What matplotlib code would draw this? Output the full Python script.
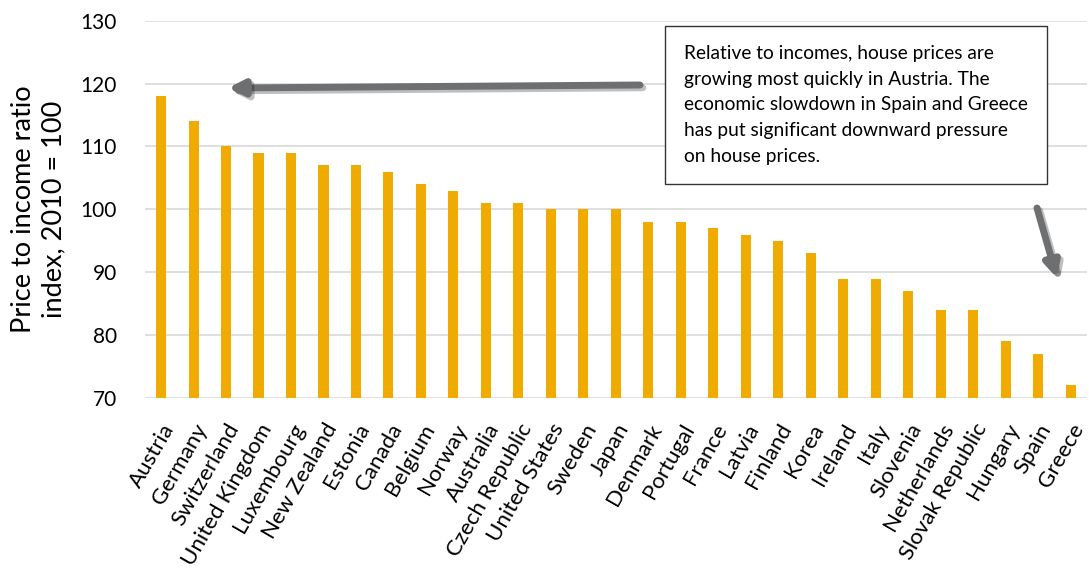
import matplotlib.pyplot as plt
import matplotlib.patheffects as pe

# price to income ratio index by country, 2010 = 100
countries = ["Austria", "Germany", "Switzerland", "United Kingdom", "Luxembourg",
             "New Zealand", "Estonia", "Canada", "Belgium", "Norway", "Australia",
             "Czech Republic", "United States", "Sweden", "Japan", "Denmark",
             "Portugal", "France", "Latvia", "Finland", "Korea", "Ireland", "Italy",
             "Slovenia", "Netherlands", "Slovak Republic", "Hungary", "Spain", "Greece"]
values = [118, 114, 110, 109, 109, 107, 107, 106, 104, 103, 101, 101, 100, 100, 100,
          98, 98, 97, 96, 95, 93, 89, 89, 87, 84, 84, 79, 77, 72]
yticks = [70, 80, 90, 100, 110, 120, 130]

plt.rcParams['font.family'] = ['Lato', 'DejaVu Sans']

fig = plt.figure(figsize=(10.89, 5.76), dpi=100)
ax = fig.add_axes([0.133, 0.309, 0.865, 0.655])

x = range(len(countries))
ax.bar(x, values, width=0.31, color="#F0AB00", zorder=3)

ax.set_ylim(70, 130)
ax.set_xlim(-0.5, len(countries) - 0.5)
ax.set_yticks(yticks)
ax.set_yticklabels([str(t) for t in yticks], fontsize=15)
ax.set_xticks(list(x))
ax.set_xticklabels(countries, rotation=60, ha="right", rotation_mode="anchor", fontsize=16)
ax.tick_params(axis="y", length=0, pad=20)
ax.tick_params(axis="x", length=0, pad=16)
ax.grid(axis="y", color="#D9D9D9", linewidth=1.2, zorder=0)
for s in ax.spines.values():
    s.set_visible(False)

ax.set_ylabel("Price to income ratio\nindex, 2010 = 100", fontsize=19.5, labelpad=10,
              linespacing=1.3)

# callout box
fig.text(684 / 1089, 1 - 45 / 576,
         "Relative to incomes, house prices are\n"
         "growing most quickly in Austria. The\n"
         "economic slowdown in Spain and Greece\n"
         "has put significant downward pressure\n"
         "on house prices.",
         fontsize=13.8, va="top", ha="left", linespacing=1.62,
         bbox=dict(boxstyle="square,pad=1.0", facecolor="white", edgecolor="#333333",
                   linewidth=1.0), zorder=5)

shadow = [pe.SimpleLineShadow(offset=(2, -2), alpha=0.25), pe.Normal()]
arrow_style = dict(arrowstyle="-|>,head_length=0.9,head_width=0.45", color="#6D6F71",
                   linewidth=5, shrinkA=0, shrinkB=0)

ax.annotate("", xy=(228, 576 - 88), xytext=(640, 576 - 85),
            xycoords="figure pixels", textcoords="figure pixels",
            arrowprops=dict(arrow_style, path_effects=shadow))
ax.annotate("", xy=(1057, 576 - 278), xytext=(1037, 576 - 208),
            xycoords="figure pixels", textcoords="figure pixels",
            arrowprops=dict(arrow_style, path_effects=shadow))

fig.savefig("out.png", dpi=100)
